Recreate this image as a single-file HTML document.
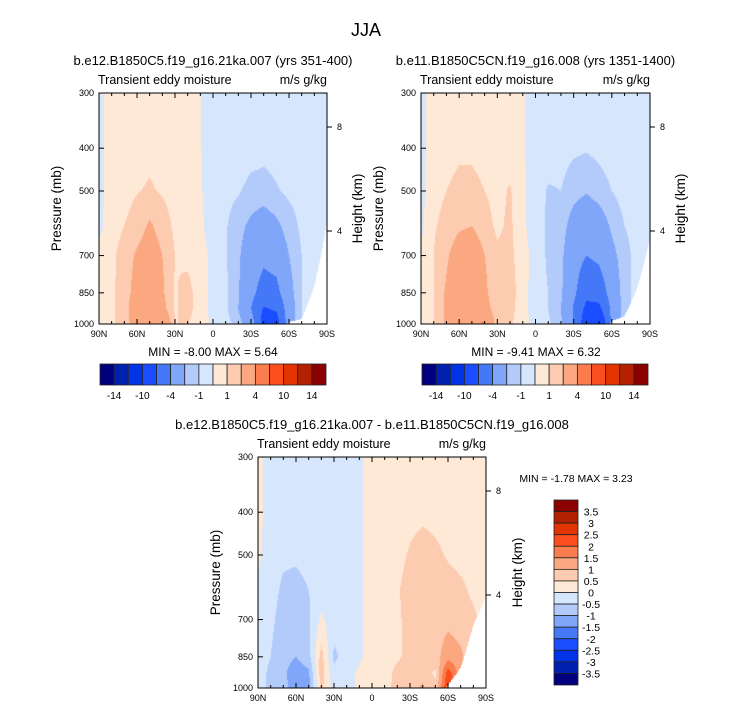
<!DOCTYPE html>
<html><head><meta charset="utf-8">
<style>
body{margin:0;background:#fff;width:733px;height:712px;position:relative;overflow:hidden;font-family:"Liberation Sans",sans-serif}
canvas{position:absolute}
svg{position:absolute;left:0;top:0}
</style></head>
<body>
<canvas id="c1" style="left:99px;top:93px" width="228" height="231"></canvas>
<canvas id="c2" style="left:421px;top:93px" width="229" height="231"></canvas>
<canvas id="c3" style="left:258px;top:457px" width="228" height="231"></canvas>
<svg id="s" width="733" height="712" font-family="Liberation Sans, sans-serif"></svg>
<script>
const lats=[90,80,70,60,50,40,30,20,10,0,-10,-20,-30,-40,-50,-60,-70,-80,-90];
const levels=[300,400,500,600,700,850,925,1000];
const colors=['#00007f','#0020b0','#0033e6','#1a4dff','#4478f7','#80a6fa','#b3cbfb','#d6e7fd','#fee8d6','#fccbb0','#fba780','#fb7c4c','#fb4e1f','#e13400','#b32100','#8b0000'];
const bounds1=[-14,-12,-10,-6,-4,-2,-1,0,1,2,4,6,10,12,14];
const bounds3=[-3.5,-3,-2.5,-2,-1.5,-1,-0.5,0,0.5,1,1.5,2,2.5,3,3.5];
const cbLabels1=['-14','-10','-4','-1','1','4','10','14'];
const cbLabels3=['3.5','3','2.5','2','1.5','1','0.5','0','-0.5','-1','-1.5','-2','-2.5','-3','-3.5'];
const xTicks=['90N','60N','30N','0','30S','60S','90S'];
const pTicks=[300,400,500,700,850,1000];
// surface pressure per latitude (below = missing)
const ground1=[1100,1100,1100,1100,1100,1100,1100,1100,1100,1100,1100,1100,1100,1100,1100,990,975,820,590];
const ground2=[1100,1100,1100,1100,1100,1100,1100,1100,1100,1100,1100,1100,1100,1100,1100,985,960,830,640];
const ground3=[1100,1100,1100,1100,1100,1100,1100,1100,1100,1100,1100,1100,1100,1100,1100,985,900,720,620];
const field1=[
[-0.3,0.5,0.5,0.5,0.5,0.5,0.5,0.5,0.05,-0.5,-0.5,-0.5,-0.5,-0.5,-0.5,-0.5,-0.5,-0.5,-0.5],
[-0.3,0.5,0.5,0.6,0.8,0.6,0.5,0.5,0.05,-0.5,-0.5,-0.5,-0.6,-0.7,-0.6,-0.5,-0.5,-0.5,-0.5],
[-0.3,0.5,0.7,0.95,1.1,0.9,0.6,0.5,0.1,-0.5,-0.7,-0.9,-1.3,-1.4,-1.1,-0.8,-0.6,-0.5,-0.5],
[-0.3,0.6,1.0,1.4,2.2,1.5,0.8,0.5,0.2,-0.5,-0.9,-1.6,-2.3,-2.8,-2.3,-1.5,-0.8,-0.5,-0.5],
[0.3,0.8,1.4,2.2,2.8,2.0,1.0,0.7,0.3,-0.2,-0.9,-1.8,-3.0,-3.6,-3.2,-2.0,-1.0,-0.5,-0.5],
[0.4,0.8,1.5,2.5,3.2,2.2,0.9,1.4,0.4,-0.3,-0.8,-1.9,-3.5,-4.8,-4.6,-2.6,-1.0,-0.5,-0.5],
[0.4,0.8,1.5,3.0,3.5,2.5,0.9,1.4,0.4,-0.3,-0.8,-2.0,-4.0,-6.2,-5.8,-3.0,-1.0,-0.5,-0.5],
[0.4,0.8,1.6,2.5,3.0,4.2,1.0,1.0,0.5,-0.2,-0.6,-1.5,-3.0,-7.0,-7.0,-3.0,-1.0,-0.5,-0.5]];
const field2=[
[-0.3,0.5,0.5,0.5,0.5,0.5,0.5,0.5,0.1,-0.5,-0.5,-0.5,-0.5,-0.5,-0.5,-0.5,-0.5,-0.5,-0.5],
[-0.3,0.5,0.6,0.8,0.8,0.6,0.5,0.5,0.1,-0.5,-0.5,-0.6,-0.8,-0.9,-0.7,-0.5,-0.5,-0.5,-0.5],
[-0.3,0.7,1.0,1.3,1.3,1.0,0.7,1.1,0.2,-0.5,-1.1,-1.0,-1.6,-1.9,-1.5,-1.0,-0.6,-0.5,-0.5],
[-0.3,0.9,1.3,1.8,2.0,1.4,0.8,1.2,0.2,-0.5,-1.2,-1.5,-2.6,-3.2,-2.8,-1.8,-1.0,-0.6,-0.5],
[0.3,1.0,1.8,2.8,3.0,2.0,1.2,1.3,0.3,-0.3,-1.2,-1.7,-3.2,-4.0,-3.6,-2.4,-1.4,-0.6,-0.5],
[0.4,1.0,2.2,3.2,3.4,2.3,1.1,1.6,0.3,-0.4,-1.0,-1.8,-3.6,-5.5,-5.2,-3.2,-1.4,-0.6,-0.5],
[0.5,1.0,2.3,3.5,3.6,2.6,1.4,1.4,0.3,-0.4,-1.0,-2.0,-4.2,-6.5,-6.5,-3.6,-1.4,-0.6,-0.5],
[0.5,1.0,2.3,3.2,3.6,4.3,1.3,1.2,0.3,-0.3,-0.8,-1.8,-4.0,-7.5,-8.5,-3.6,-1.4,-0.6,-0.5]];
const field3=[
[0.2,-0.3,-0.3,-0.3,-0.3,-0.3,-0.3,-0.3,-0.1,0.3,0.3,0.3,0.3,0.3,0.3,0.3,0.3,0.3,0.3],
[0.2,-0.3,-0.3,-0.3,-0.3,-0.3,-0.3,-0.3,-0.1,0.3,0.3,0.3,0.35,0.4,0.35,0.3,0.3,0.3,0.3],
[0.1,-0.3,-0.4,-0.4,-0.3,-0.3,-0.3,-0.3,-0.1,0.3,0.3,0.35,0.55,0.7,0.6,0.45,0.35,0.3,0.3],
[-0.1,-0.3,-0.6,-0.7,-0.5,-0.3,-0.3,-0.3,-0.1,0.3,0.3,0.45,0.7,0.85,0.8,0.7,0.6,0.4,0.3],
[-0.2,-0.4,-0.7,-0.8,-0.6,0.1,-0.3,-0.3,-0.1,0.3,0.3,0.4,0.7,0.8,0.8,0.85,0.75,0.6,0.3],
[-0.3,-0.5,-0.8,-1.0,-0.7,0.7,-0.6,-0.3,-0.1,0.3,0.3,0.45,0.6,0.7,0.8,1.3,1.1,0.6,0.3],
[-0.3,-0.6,-0.9,-1.3,-1.1,0.8,-0.4,-0.2,0.1,0.3,0.35,0.6,0.7,0.8,0.4,2.3,1.2,0.6,0.3],
[-0.3,-0.6,-0.8,-1.3,-1.2,0.6,-0.2,-0.2,0.1,0.3,0.4,0.6,0.8,1.1,0.6,2.6,1.2,0.6,0.3]];

const LP=levels.map(p=>Math.log(p));
function colorFor(v,b){let i=0;while(i<b.length&&v>=b[i])i++;return colors[i];}
function drawField(id,f,b,g){
  const c=document.getElementById(id),ctx=c.getContext('2d'),W=c.width,H=c.height;
  const l0=Math.log(300),l1=Math.log(1000);
  for(let py=0;py<H;py++){
    const lp=l0+(py+0.5)/H*(l1-l0),p=Math.exp(lp);
    let j=0;while(j<LP.length-2&&lp>LP[j+1])j++;
    const ty=Math.min(1,Math.max(0,(lp-LP[j])/(LP[j+1]-LP[j])));
    for(let px=0;px<W;px++){
      const lat=90-(px+0.5)/W*180;
      const fx=(90-lat)/10;let i=Math.min(17,Math.floor(fx));const tx=fx-i;
      const gp=g[i]*(1-tx)+g[i+1]*tx;
      if(p>gp)continue;
      const v=(f[j][i]*(1-tx)+f[j][i+1]*tx)*(1-ty)+(f[j+1][i]*(1-tx)+f[j+1][i+1]*tx)*ty;
      ctx.fillStyle=colorFor(v,b);ctx.fillRect(px,py,1,1);
    }
  }
}
drawField('c1',field1,bounds1,ground1);drawField('c2',field2,bounds1,ground2);drawField('c3',field3,bounds3,ground3);

const S=document.getElementById('s');const NS='http://www.w3.org/2000/svg';
function el(t,a,txt){const e=document.createElementNS(NS,t);for(const k in a)e.setAttribute(k,a[k]);if(txt!==undefined)e.textContent=txt;S.appendChild(e);return e;}
function txt(x,y,s,size,anchor,name,rot){const e=el('text',{x:x,y:y,'font-size':size,'text-anchor':anchor||'middle',fill:'#000'},s);


if(rot)e.setAttribute('transform','rotate('+rot+' '+x+' '+y+')');return e;}
txt(366,36,'JJA',18,'middle','figure-title');
function panel(x0,y0,w,h,title,sub,pfx,hOff){
  const g=el('rect',{x:x0,y:y0,width:w,height:h,fill:'none',stroke:'#000','stroke-width':1});
  
  
  txt(x0+w/2,y0-28,title,13,'middle',pfx+'-title');
  txt(x0-1,y0-9,sub,12.5,'start',pfx+'-subtitle');
  txt(x0+w,y0-9,'m/s g/kg',12.5,'end',pfx+'-units');
  for(let lat=90;lat>=-90;lat-=10){
    const x=x0+(90-lat)/180*w,major=lat%30===0,L=major?5:3;
    el('line',{x1:x,y1:y0+h,x2:x,y2:y0+h-L,stroke:'#000'});
    el('line',{x1:x,y1:y0,x2:x,y2:y0+L,stroke:'#000'});
  }
  xTicks.forEach((t,k)=>txt(x0+k*w/6,y0+h+13,t,9,'middle',pfx+'-x-tick-label'));
  const l0=Math.log(300),l1=Math.log(1000);
  pTicks.forEach(p=>{const y=y0+(Math.log(p)-l0)/(l1-l0)*h;
    el('line',{x1:x0,y1:y,x2:x0+5,y2:y,stroke:'#000'});
    txt(x0-5,y+3,String(p),9,'end',pfx+'-y-tick-label');});
  [[8,y0+34],[4,y0+138]].forEach(([k,y])=>{el('line',{x1:x0+w,y1:y,x2:x0+w+5,y2:y,stroke:'#000'});
    txt(x0+w+10,y+3,String(k),9,'start',pfx+'-height-tick-label');});
  txt(x0-38,y0+h/2,'Pressure (mb)',13.5,'middle',pfx+'-y-axis-title',-90);
  txt(x0+w+hOff,y0+h/2,'Height (km)',13.5,'middle',pfx+'-height-axis-title',-90);
}
panel(99,93,228,231,'b.e12.B1850C5.f19_g16.21ka.007 (yrs 351-400)','Transient eddy moisture','panel1',35);
panel(421,93,229,231,'b.e11.B1850C5CN.f19_g16.008 (yrs 1351-1400)','Transient eddy moisture','panel2',35);
panel(258,457,228,231,'b.e12.B1850C5.f19_g16.21ka.007 - b.e11.B1850C5CN.f19_g16.008','Transient eddy moisture','diff',36);
txt(213,356,'MIN =  -8.00  MAX =    5.64',12,'middle','panel1-min-max');
txt(536,356,'MIN =  -9.41  MAX =    6.32',12,'middle','panel2-min-max');
txt(576,482,'MIN =  -1.78  MAX =    3.23',10.5,'middle','diff-min-max');
function hbar(x0,y0,w,h,pfx){const bw=w/16;
  colors.forEach((c,k)=>{const r=el('rect',{x:x0+k*bw,y:y0,width:bw,height:h,fill:c,stroke:'#222','stroke-width':0.8});
    
    });
  cbLabels1.forEach((t,k)=>txt(x0+(2*k+1)*bw,y0+h+14,t,10,'middle',pfx+'-colorbar-label'));}
hbar(100,364,226,21,'panel1');hbar(422,364,226,21,'panel2');
(function(){const x0=554,y0=500,w=24,h=185,bh=h/16;
  colors.slice().reverse().forEach((c,k)=>{const r=el('rect',{x:x0,y:y0+k*bh,width:w,height:bh,fill:c,stroke:'#222','stroke-width':0.8});
    
    });
  cbLabels3.forEach((t,k)=>txt(x0+w+13,y0+(k+1)*bh+4,t,10.5,'middle','diff-colorbar-label'));})();
</script>
</body></html>
